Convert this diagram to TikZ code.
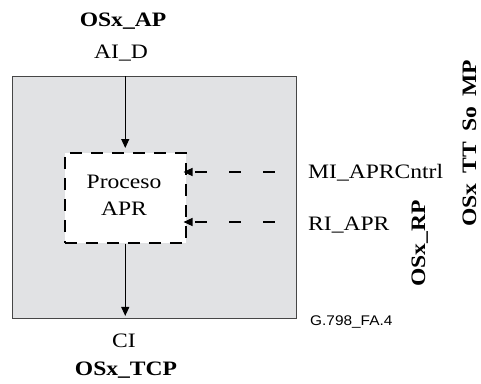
\documentclass[tikz,border=0pt]{standalone}
\usepackage{fontspec}
\setmainfont[FakeStretch=1.15]{Liberation Serif}
\newfontfamily\labsans[FakeStretch=1.1]{Liberation Sans}
\usetikzlibrary{arrows.meta}
\definecolor{boxgray}{RGB}{225,226,228}
\definecolor{edgegray}{RGB}{70,70,70}
\begin{document}
\begin{tikzpicture}[x=1pt,y=-1pt,
  lab/.style={font=\fontsize{20.5}{24}\selectfont, inner sep=0pt},
  blab/.style={font=\fontsize{20.5}{24}\selectfont\bfseries, inner sep=0pt},
  arr/.style={line width=1.1pt, -{Triangle[length=9pt,width=8pt]}},
  darr/.style={arr, dash pattern=on 12pt off 22pt, dash phase=12pt},
  ]
\useasboundingbox (0,0) rectangle (481,383);
\node[draw=edgegray, line width=0.9pt, fill=boxgray, minimum width=284pt,
      minimum height=242pt, inner sep=0pt, anchor=north west] (outer) at (12,76) {};
\node[draw=black, line width=1.5pt, fill=white, dash pattern=on 12pt off 9pt,
      minimum width=121pt, minimum height=90pt, inner sep=0pt,
      anchor=north west] (inner) at (64,152) {};
\node[lab, anchor=base] (proc) at (124,188) {Proceso};
\node[lab, anchor=base] (apr) at (124,215) {APR};

\coordinate (mi) at (185,172);
\coordinate (ri) at (185,222);
\draw[arr, shorten >=4pt] (inner.north |- outer.north) -- (inner.north);
\draw[arr, shorten >=3pt] (inner.south) -- (inner.south |- outer.south);
\draw[darr, shorten >=-1.5pt] (outer.east |- mi) -- (mi);
\draw[darr, shorten >=-1.5pt] (outer.east |- ri) -- (ri);

\node[blab, anchor=base] (osxap) at (123,26) {OSx\_AP};
\node[lab, anchor=base] (aid) at (121,58) {AI\_D};
\node[lab, anchor=base] (ci) at (124,347) {CI};
\node[blab, anchor=base] (osxtcp) at (126,375) {OSx\_TCP};
\node[lab, anchor=base west] (milab) at (308,178) {MI\_APRCntrl};
\node[lab, anchor=base west] (rilab) at (308,230) {RI\_APR};
\node[anchor=base west, inner sep=0pt, font=\labsans\fontsize{14}{16}\selectfont] (fig) at (310,325) {G.798\_FA.4};
\node[blab, rotate=90, anchor=base west] (osxrp) at (425,287) {OSx\_RP};
\node[blab, rotate=90, anchor=base west] (osxtt) at (476,227) {OSx\hspace{0.5em}TT\hspace{0.5em}So\hspace{0.5em}MP};
\end{tikzpicture}
\end{document}
